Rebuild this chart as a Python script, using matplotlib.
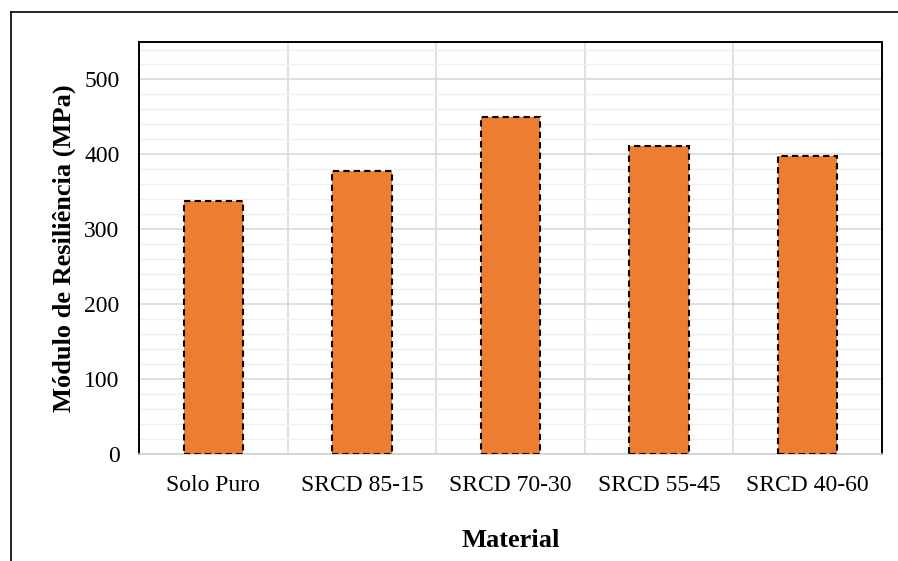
import matplotlib
matplotlib.use("Agg")
import matplotlib.pyplot as plt
from matplotlib.ticker import MultipleLocator
from matplotlib.lines import Line2D

categories = ["Solo Puro", "SRCD 85-15", "SRCD 70-30", "SRCD 55-45", "SRCD 40-60"]
modulus = [338, 378, 450, 411, 398]
y_ticks = [0, 100, 200, 300, 400, 500]

plt.rcParams["font.family"] = ["Liberation Serif", "DejaVu Serif"]

fig = plt.figure(figsize=(8.98, 5.61), dpi=100)
ax = fig.add_axes([0.1548, 0.1907, 0.8274, 0.7344])

x = list(range(len(categories)))
ax.bar(x, modulus, width=0.40, color="#ED7D31", edgecolor="black",
       linewidth=1.5, linestyle=(0, (3, 2)), zorder=3)

ax.set_xlim(-0.5, len(categories) - 0.5)
ax.set_ylim(0, 550)
ax.set_yticks(y_ticks)
ax.yaxis.set_minor_locator(MultipleLocator(20))
ax.set_xticks(x)
ax.set_xticklabels(categories)

# horizontal grid: major and minor
ax.grid(axis="y", which="major", color="#d9d9d9", linewidth=1.2, zorder=0)
ax.grid(axis="y", which="minor", color="#f0f0f0", linewidth=1.0, zorder=0)
# vertical separators between categories
for b in [i + 0.5 for i in range(len(categories) - 1)]:
    ax.axvline(b, color="#d9d9d9", linewidth=1.2, zorder=0)

ax.tick_params(axis="both", which="both", length=0, labelsize=17)
ax.tick_params(axis="y", pad=14)
ax.tick_params(axis="x", pad=15)

for side in ["left", "top", "right"]:
    ax.spines[side].set_color("black")
    ax.spines[side].set_linewidth(1.4)
ax.spines["bottom"].set_color("#d0d0d0")
ax.spines["bottom"].set_linewidth(1.2)

ax.set_ylabel("Módulo de Resiliência (MPa)", fontsize=19, fontweight="bold", labelpad=6)
ax.set_xlabel("Material", fontsize=19, fontweight="bold", labelpad=24)

# outer frame (left and top edges)
fig.add_artist(Line2D([0.0117, 0.0117], [0.0, 0.9786], transform=fig.transFigure,
                      color="black", linewidth=1.2))
fig.add_artist(Line2D([0.0117, 1.0], [0.9786, 0.9786], transform=fig.transFigure,
                      color="black", linewidth=1.2))

fig.savefig("out.png", dpi=100)
